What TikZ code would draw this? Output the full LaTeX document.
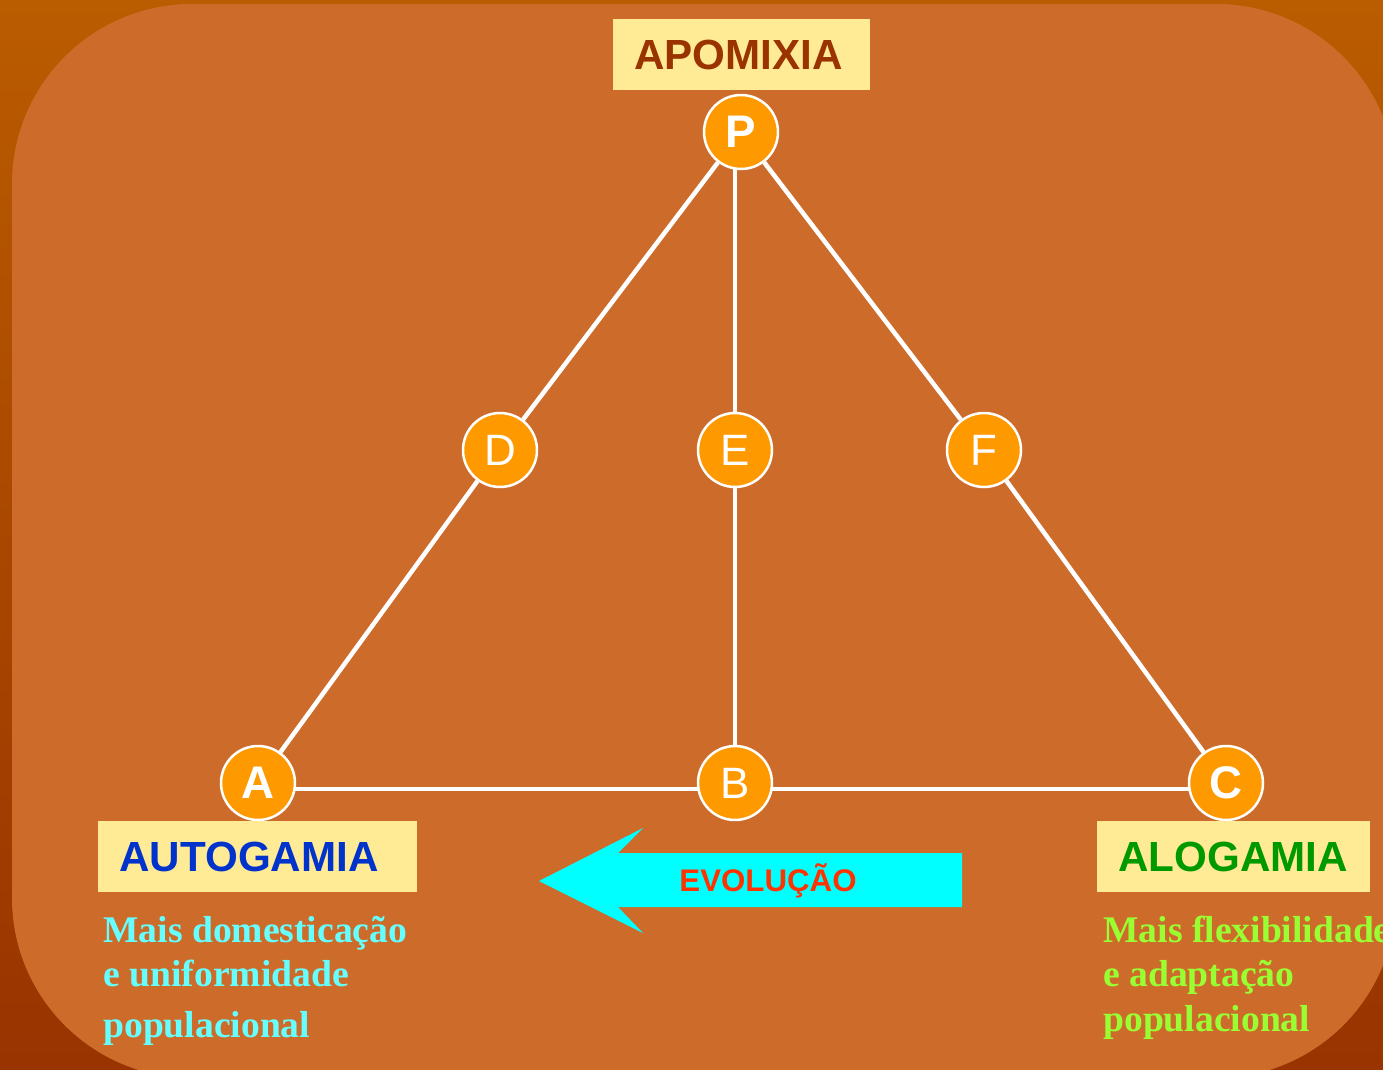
\documentclass[tikz,border=0pt]{standalone}
\usepackage{fontspec}
\setmainfont{Liberation Sans}
\newfontfamily\timesfont{Liberation Serif}
\usetikzlibrary{positioning, backgrounds}
\definecolor{bgOuter}{HTML}{BA5C00}
\definecolor{bgOuterDark}{HTML}{993300}
\definecolor{bgInner}{HTML}{CD6B2B}
\definecolor{nodeOrange}{HTML}{FF9900}
\definecolor{boxYellow}{HTML}{FFEA96}
\definecolor{brownC}{HTML}{993300}
\definecolor{blueC}{HTML}{0033CC}
\definecolor{greenC}{HTML}{009900}
\definecolor{redC}{HTML}{FF3300}
\definecolor{cyanC}{HTML}{00FFFF}
\definecolor{cyanT}{HTML}{66FFFF}
\definecolor{limeT}{HTML}{99FF33}
\tikzset{
  pt/.style={circle, draw=white, line width=0.05cm, fill=nodeOrange, minimum size=1.48cm, inner sep=0pt, text=white, font=\fontsize{25}{25}\selectfont},
  ptB/.style={pt, font=\fontsize{26}{26}\selectfont\bfseries},
  edg/.style={draw=white, line width=0.09cm},
  lbox/.style={fill=boxYellow, anchor=north west, align=left, inner xsep=0.42cm, inner ysep=0pt, minimum height=1.42cm, font=\fontsize{24}{24}\selectfont\bfseries},
  desc/.style={anchor=base west, inner sep=0pt, font=\timesfont\fontsize{21.4}{21.4}\selectfont\bfseries}
}
\begin{document}
\begin{tikzpicture}[x=0.02cm, y=-0.02cm]
  \useasboundingbox (0,0) rectangle (1383,1069);

  % ── Background ──
  \begin{scope}[on background layer]
    \shade[top color=bgOuter, bottom color=bgOuterDark] (0,0) rectangle (1383,1069);
    \fill[bgInner, rounded corners=3.6cm] (12,4) rectangle (1396,1078);
  \end{scope}

  % ── Points ──
  \node[ptB] (P) at (741,132) {P};
  \node[pt] (D) at (500,450) {D};
  \node[pt] (E) at (735,450) {E};
  \node[pt] (F) at (984,450) {F};
  \node[ptB] (A) at (258,783) {A};
  \node[pt] (B) at (735,783) {B};
  \node[ptB] (C) at (1226,783) {C};

  \begin{scope}[on background layer]
    \draw[edg] (P) -- (D) -- (A);
    \draw[edg] (E |- P) -- (E) -- (B);
    \draw[edg] (P) -- (F) -- (C);
    \draw[edg] ([yshift=-0.12cm]A.center) -- ([yshift=-0.12cm]C.center);
  \end{scope}

  % ── Labels ──
  \node[lbox, text width=4.30cm, text=brownC] (apo) at (613,19) {APOMIXIA};
  \node[lbox, text width=5.54cm, text=blueC] (auto) at (98,821) {AUTOGAMIA};
  \node[lbox, text width=4.62cm, text=greenC] (alo) at (1097,821) {ALOGAMIA};

  % ── Evolution arrow ──
  \fill[cyanC] (539,881) -- (643,828) -- (618,853) -- (962,853) -- (962,907) -- (618,907) -- (643,933) -- cycle;
  \node[anchor=base, inner sep=0pt, text=redC, font=\fontsize{17.8}{17.8}\selectfont\bfseries] (evo) at (768,891) {EVOLUÇÃO};

  % ── Descriptions ──
  \node[desc, text=cyanT] (autoA) at (103,942) {Mais domesticação};
  \node[desc, text=cyanT] (autoB) at (103,986) {e uniformidade};
  \node[desc, text=cyanT] (autoC) at (103,1037) {populacional};
  \node[desc, text=limeT] (aloA) at (1103,942) {Mais flexibilidade};
  \node[desc, text=limeT] (aloB) at (1103,986) {e adaptação};
  \node[desc, text=limeT] (aloC) at (1103,1031) {populacional};
\end{tikzpicture}
\end{document}
